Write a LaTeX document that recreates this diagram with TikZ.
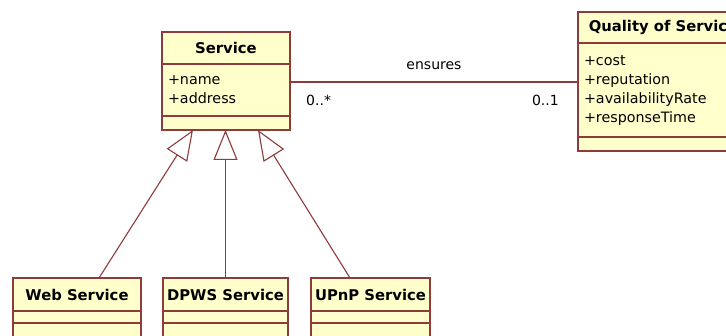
\documentclass[tikz,border=0pt]{standalone}
\usepackage{fontspec}
\setmainfont{DejaVu Sans}
\usetikzlibrary{arrows.meta,positioning,calc}
\definecolor{umlline}{HTML}{8E3B3B}
\definecolor{umlfill}{HTML}{FFFFCC}

\begin{document}
\begin{tikzpicture}[x=1pt, y=-1pt,
  comp/.style={draw=umlline, fill=umlfill, line width=1.2pt, inner sep=0pt, outer sep=0pt},
  head/.style={comp, font=\fontsize{14.8}{16}\selectfont\bfseries, anchor=north west},
  attrs/.style={comp, font=\fontsize{14.3}{19}\selectfont, align=left, inner xsep=6pt},
  blank/.style={comp},
  gen/.style={draw=umlline, line width=1.1pt, -{Triangle[length=30pt, width=24pt, fill=white]}},
  assoc/.style={draw=umlline, line width=1.1pt},
  lbl/.style={font=\fontsize{14}{16}\selectfont, inner sep=0pt}
]
  \useasboundingbox (0,0) rectangle (726,336);
  \clip (0,0) rectangle (726,336);
  \fill[white] (0,0) rectangle (726,336);

  % Service
  \node[head, minimum width=128pt, minimum height=32pt] (svcH) at (162,32) {Service};
  \node[attrs, text width=116pt, minimum height=52pt, below=0pt of svcH] (svcA) {+name\\+address};
  \node[blank, minimum width=128pt, minimum height=14pt, below=0pt of svcA] (svcO) {};

  % Quality of Service
  \node[head, minimum width=170pt, minimum height=31pt] (qosH) at (578,12) {Quality of Service};
  \node[attrs, text width=158pt, minimum height=94pt, below=0pt of qosH] (qosA)
    {+cost\\+reputation\\+availabilityRate\\+responseTime};
  \node[blank, minimum width=170pt, minimum height=14pt, below=0pt of qosA] (qosO) {};

  % subclasses
  \node[head, minimum width=128pt, minimum height=33pt] (webH) at (13,278) {Web Service};
  \node[blank, minimum width=128pt, minimum height=12pt, below=0pt of webH] (webA) {};
  \node[blank, minimum width=128pt, minimum height=14pt, below=0pt of webA] (webO) {};

  \node[head, minimum width=125pt, minimum height=33pt] (dpwsH) at (163,278) {DPWS Service};
  \node[blank, minimum width=125pt, minimum height=12pt, below=0pt of dpwsH] (dpwsA) {};
  \node[blank, minimum width=125pt, minimum height=14pt, below=0pt of dpwsA] (dpwsO) {};

  \node[head, minimum width=119pt, minimum height=33pt] (upnpH) at (311,278) {UPnP Service};
  \node[blank, minimum width=119pt, minimum height=12pt, below=0pt of upnpH] (upnpA) {};
  \node[blank, minimum width=119pt, minimum height=14pt, below=0pt of upnpA] (upnpO) {};

  % association
  \coordinate (assocL) at ($(svcA.north east)+(0,18)$);
  \coordinate (assocR) at (assocL -| qosA.west);
  \draw[assoc] (assocL) -- node[lbl, above=12pt] (ens) {ensures} (assocR);
  \node[lbl, below right=13pt and 16pt of assocL] (multL) {0..*};
  \node[lbl, below left=13pt and 19pt of assocR] (multR) {0..1};

  % generalizations
  \draw[gen] ($(webH.north)+(22,0)$) -- ($(svcO.south)+(-33,0)$);
  \draw[gen] (dpwsH.north) -- (dpwsH.north |- svcO.south);
  \draw[gen] ($(upnpH.north)+(-20.5,0)$) -- ($(svcO.south)+(32,0)$);
\end{tikzpicture}
\end{document}
